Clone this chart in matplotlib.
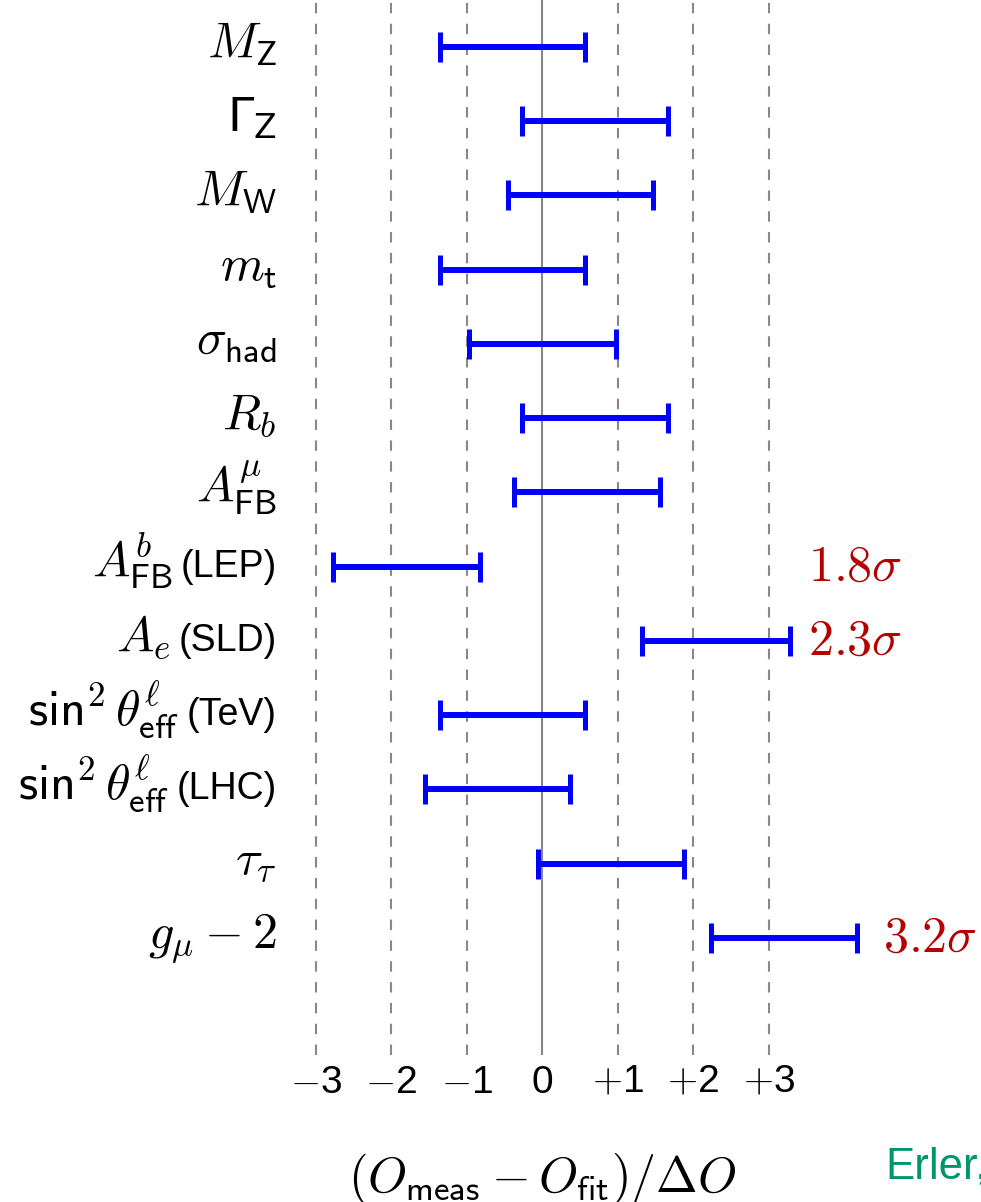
import numpy as np
import matplotlib
matplotlib.use("Agg")
import matplotlib.pyplot as plt
from matplotlib import transforms

plt.rcParams['mathtext.fontset'] = 'cm'
plt.rcParams['font.family'] = ['Liberation Sans', 'DejaVu Sans']

# ---- data (pulls, in units of the error) ----
names = [r'$M_\mathsf{Z}$', r'$\Gamma_\mathsf{Z}$', r'$M_\mathsf{W}$', r'$m_\mathsf{t}$',
         r'$\sigma_\mathsf{had}$', r'$R_b$', r'$A^\mu_\mathsf{FB}$', r'$A^b_\mathsf{FB}$',
         r'$A_e$', r'$\mathsf{sin}^\mathsf{2}\,\theta^\ell_\mathsf{eff}$',
         r'$\mathsf{sin}^\mathsf{2}\,\theta^\ell_\mathsf{eff}$', r'$\tau_\tau$', r'$g_\mu - \mathsf{2}$']
suffixes = ['', '', '', '', '', '', '', '(LEP)', '(SLD)', '(TeV)', '(LHC)', '', '']
lo = np.array([-1.355, -0.269, -0.454, -1.355, -0.971, -0.269, -0.375, -2.772, 1.321, -1.355, -1.554, -0.057, 2.234])
hi = np.array([0.566, 1.665, 1.466, 0.566, 0.976, 1.665, 1.559, -0.825, 3.281, 0.566, 0.367, 1.877, 4.168])

sig_rows = [7, 8, 12]
sig_x = [3.52, 3.52, 4.51]
sig_text = ['1.8', '2.3', '3.2']

xticks = [-3, -2, -1, 0, 1, 2, 3]
xticklabels = ['$-$3', '$-$2', '$-$1', '0', '$+$1', '$+$2', '$+$3']

# ----------------------------------------------------------------
W, H = 981, 1202
fig = plt.figure(figsize=(W / 100, H / 100), dpi=100)
ax = fig.add_axes([280 / W, (H - 1055) / H, (W - 280) / W, 1055 / H])
ax.set_xlim(-3.474, 5.811)
ax.set_ylim(13.576, -0.633)
for s in ax.spines.values():
    s.set_visible(False)

for v in [-3, -2, -1, 1, 2, 3]:
    ax.axvline(v, color='#888888', lw=1.5, linestyle=(0, (5, 5)), zorder=1)
ax.axvline(0, color='#888888', lw=1.5, zorder=1)

rows = np.arange(len(names))
ax.errorbar((lo + hi) / 2, rows, xerr=(hi - lo) / 2, fmt='none', ecolor='#0000ff',
            elinewidth=4.3, capsize=11, capthick=3.6, zorder=3)

ax.set_xticks(xticks)
ax.set_xticklabels(xticklabels, fontsize=28)
ax.set_yticks([])
ax.tick_params(axis='x', length=0, pad=7)

# row labels, right aligned against the axes
trans = transforms.blended_transform_factory(fig.transFigure, ax.transData)
xlab = 277 / W
off = 10 / 74.25
suf_texts = []
for i, (nm, sf) in enumerate(zip(names, suffixes)):
    if sf:
        t = ax.text(xlab, i + off, sf, transform=trans, ha='right', va='baseline',
                    fontsize=27)
        suf_texts.append((i, nm, t))
    elif i == 1:
        ax.text(xlab, i + off, nm, transform=trans, ha='right', va='baseline',
                fontsize=34, math_fontfamily='dejavusans')
    else:
        ax.text(xlab, i + off, nm, transform=trans, ha='right', va='baseline',
                fontsize=36)

fig.canvas.draw()
r = fig.canvas.get_renderer()
for i, nm, t in suf_texts:
    w = t.get_window_extent(r).width
    tr = transforms.offset_copy(trans, fig=fig, x=-(w + 8), y=0, units='dots')
    ax.text(xlab, i + off, nm, transform=tr, ha='right', va='baseline', fontsize=36)

for rr, xx, tt in zip(sig_rows, sig_x, sig_text):
    ax.text(xx, rr + 14 / 74.25, r'$\mathsf{%s}\sigma$' % tt, color='#b40000', fontsize=36,
            ha='left', va='baseline')

fig.text(542.3 / W, (H - 1192) / H,
         r'$(O_\mathsf{meas} - O_\mathsf{fit})/\Delta O$', fontsize=36,
         ha='center', va='baseline')
fig.text(885 / W, (H - 1178) / H, 'Erler,', color='#00966b', fontsize=31.5,
         ha='left', va='baseline')

fig.savefig('out.png', dpi=100)
